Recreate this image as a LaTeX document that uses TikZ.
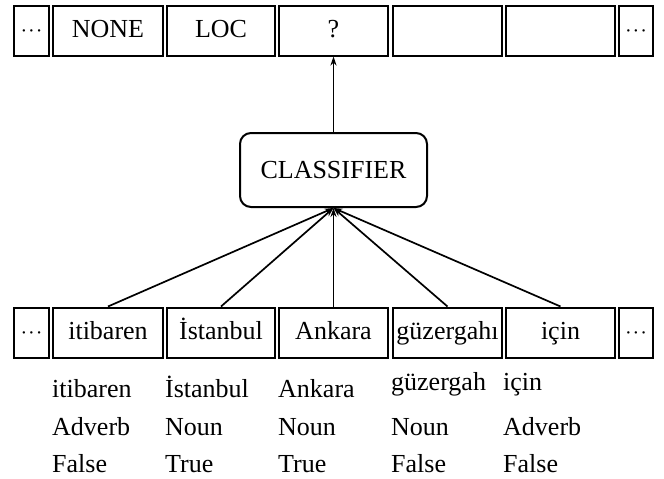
\documentclass[tikz,border=0pt]{standalone}
\usepackage{fontspec}
\setmainfont{Liberation Serif}
\usetikzlibrary{arrows.meta}
\newcommand{\mydots}{{\fontsize{20}{20}\selectfont ·\kern1pt·\kern1pt·}}
\begin{document}
\begin{tikzpicture}[x=1pt,y=-1pt,
  cell/.style={draw, line width=2pt, minimum height=50pt, inner sep=0pt,
    font=\fontsize{26}{30}\selectfont, text height=19pt, text depth=5pt},
  clsbox/.style={draw, line width=2pt, rounded corners=11pt, minimum width=187pt,
    minimum height=74pt, inner sep=0pt, font=\fontsize{26}{30}\selectfont},
  arr/.style={line width=1.7pt, -{Stealth[length=9pt,width=6pt]}},
  lbl/.style={anchor=base west, inner sep=0pt, font=\fontsize{26}{30}\selectfont}]
\useasboundingbox (0,0) rectangle (664,479);
% top row
\node[cell, minimum width=35pt]  (t0) at (31.5,30.5) {\mydots};
\node[cell, minimum width=110pt] (t1) at (108,30.5) {NONE};
\node[cell, minimum width=108pt] (t2) at (221,30.5) {LOC};
\node[cell, minimum width=109pt] (t3) at (333.5,30.5) {?};
\node[cell, minimum width=109pt] (t4) at (447.5,30.5) {};
\node[cell, minimum width=109pt] (t5) at (560.5,30.5) {};
\node[cell, minimum width=34pt]  (t6) at (636,30.5) {\mydots};
% classifier
\node[clsbox] (cls) at (333.5,170) {CLASSIFIER};
% bottom row
\node[cell, minimum width=35pt]  (b0) at (31.5,332.5) {\mydots};
\node[cell, minimum width=110pt] (b1) at (108,332.5) {itibaren};
\node[cell, minimum width=108pt] (b2) at (221,332.5) {İstanbul};
\node[cell, minimum width=109pt] (b3) at (333.5,332.5) {Ankara};
\node[cell, minimum width=109pt] (b4) at (447.5,332.5) {güzergahı};
\node[cell, minimum width=109pt] (b5) at (560.5,332.5) {için};
\node[cell, minimum width=34pt]  (b6) at (636,332.5) {\mydots};
% arrows
\draw[arr] (cls.north) -- (t3.south);
\foreach \i in {1,...,5} \draw[arr] (b\i.north) -- (cls.south);
% features
\node[lbl] (w1) at (52,397) {itibaren};
\node[lbl] (w2) at (165,397) {İstanbul};
\node[lbl] (w3) at (278,397) {Ankara};
\node[lbl] (w4) at (391,390) {güzergah};
\node[lbl] (w5) at (503,390) {için};
\node[lbl] (p1) at (52,435) {Adverb};
\node[lbl] (p2) at (165,435) {Noun};
\node[lbl] (p3) at (278,435) {Noun};
\node[lbl] (p4) at (391,435) {Noun};
\node[lbl] (p5) at (503,435) {Adverb};
\node[lbl] (f1) at (52,472) {False};
\node[lbl] (f2) at (165,472) {True};
\node[lbl] (f3) at (278,472) {True};
\node[lbl] (f4) at (391,472) {False};
\node[lbl] (f5) at (503,472) {False};
\end{tikzpicture}
\end{document}
